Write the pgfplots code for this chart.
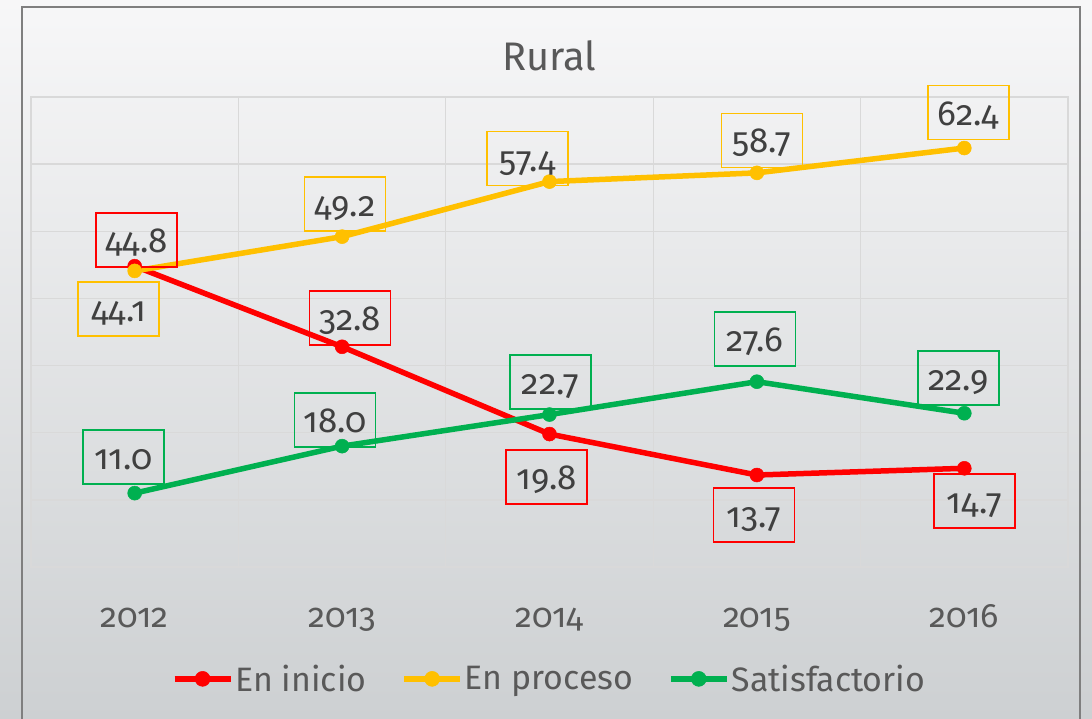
\documentclass[border=0pt]{standalone}
\usepackage{fontspec}
\setmainfont{Fira Sans}[Numbers=OldStyle]
\usepackage{pgfplots}
\pgfplotsset{compat=1.18}
\definecolor{cred}{HTML}{FF0000}
\definecolor{cgold}{HTML}{FFC000}
\definecolor{cgreen}{HTML}{00B050}
\definecolor{gridc}{HTML}{D9D9D9}
\definecolor{txt}{HTML}{595959}
\definecolor{lbl}{HTML}{404040}
\definecolor{framec}{HTML}{7F7F7F}
\definecolor{bgtop}{HTML}{F7F7F8}
\definecolor{bgbot}{HTML}{CDD0D2}
\tikzset{labelbox/.style={font=\fontsize{35}{42}\selectfont, text=lbl, draw=#1, line width=1.7bp,
    minimum width=81bp, minimum height=54bp, inner sep=0pt, text height=25bp, text depth=0bp,
    anchor=center, xshift=\dx bp, yshift=\dy bp}}
\pgfplotstableread{
x y dx dy
0 44.8 2 26
1 32.8 8 29
2 19.8 -3 -43
3 13.7 -3 -40
4 14.7 10 -33
}\redtab
\pgfplotstableread{
x y dx dy
0 44.1 -16 -38
1 49.2 3 32.5
2 57.4 -22 23
3 58.7 5 32.4
4 62.4 4 35.5
}\goldtab
\pgfplotstableread{
x y dx dy
0 11.0 -11 36
1 18.0 -7 26.4
2 22.7 1 32.7
3 27.6 -2 43
4 22.9 -6 35
}\greentab
\begin{document}
\begin{tikzpicture}
\useasboundingbox (0bp,0bp) rectangle (1092bp,719bp);
\shade[top color=bgtop, bottom color=bgbot] (0bp,0bp) rectangle (1092bp,719bp);
\draw[framec, line width=2bp] (22bp,-2bp) -- (22bp,712bp) -- (1080bp,712bp) -- (1080bp,-2bp);
\begin{axis}[
  at={(31bp,152bp)}, anchor=south west,
  scale only axis, width=1037bp, height=470bp,
  xmin=-0.5, xmax=4.5, ymin=0, ymax=70,
  xtick={0,...,4}, xticklabels={2012,2013,2014,2015,2016},
  minor xtick={-0.5,0.5,...,4.5},
  ytick={0,10,...,70}, yticklabels={},
  xminorgrids=true, ymajorgrids=true,
  major grid style={gridc, line width=1.3bp},
  minor grid style={gridc, line width=1.3bp},
  tick style={draw=none},
  axis line style={gridc, line width=1.3bp},
  xticklabel style={font=\fontsize{34}{40}\selectfont, text=txt, anchor=base, yshift=-60bp},
  title=Rural,
  title style={font=\fontsize{40}{48}\selectfont, text=txt, at={(0.5,1)}, anchor=center, yshift=35bp},
  clip=false,
  /pgf/number format/fixed, /pgf/number format/fixed zerofill,
  /pgf/number format/precision=1, /pgf/number format/assume math mode=true,
  legend style={at={(0.5,-0.238)}, anchor=center, draw=none, fill=none,
    font=\fontsize{34}{40}\selectfont, text=txt, legend columns=3,
    /tikz/every even column/.append style={column sep=33bp}},
  legend cell align=left,
  legend image code/.code={\draw[mark repeat=2, mark phase=2, mark size=7.5bp, #1] plot coordinates {(0bp,0bp) (28bp,0bp) (56bp,0bp)};},
]
\addplot[cred, line width=5.5bp, mark=*, mark size=7bp, mark options={line width=0.5bp, fill=cred},
  nodes near coords, visualization depends on={\thisrow{dx}\as\dx}, visualization depends on={\thisrow{dy}\as\dy},
  every node near coord/.append style={labelbox=cred}] table[x=x,y=y] {\redtab};
\addlegendentry{En inicio}
\addplot[cgold, line width=5.5bp, mark=*, mark size=7bp, mark options={line width=0.5bp, fill=cgold},
  nodes near coords, visualization depends on={\thisrow{dx}\as\dx}, visualization depends on={\thisrow{dy}\as\dy},
  every node near coord/.append style={labelbox=cgold}] table[x=x,y=y] {\goldtab};
\addlegendentry{En proceso}
\addplot[cgreen, line width=5.5bp, mark=*, mark size=7bp, mark options={line width=0.5bp, fill=cgreen},
  nodes near coords, visualization depends on={\thisrow{dx}\as\dx}, visualization depends on={\thisrow{dy}\as\dy},
  every node near coord/.append style={labelbox=cgreen}] table[x=x,y=y] {\greentab};
\addlegendentry{Satisfactorio}
\end{axis}
\end{tikzpicture}
\end{document}
